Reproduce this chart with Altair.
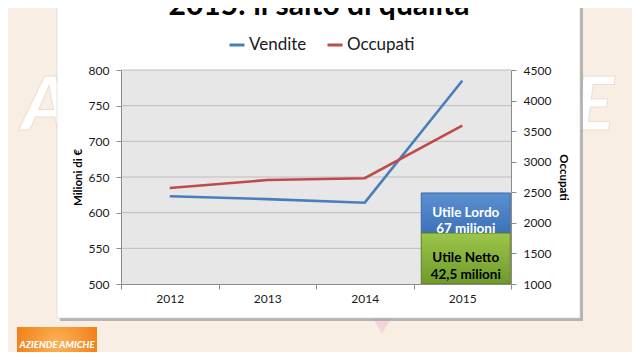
import altair as alt
import pandas as pd

# ---- data ----
anni = ["2012", "2013", "2014", "2015"]
vendite = [623, 619, 614, 785]          # Milioni di €
occupati = [2570, 2700, 2730, 3590]     # Occupati
griglia = [550, 600, 650, 700, 750, 800]
box_testi = ["Utile Lordo\n67 milioni", "Utile Netto\n42,5 milioni"]
box_alto = [627.6, 571.5]
box_basso = [571.5, 500]

W, H = 390, 214
FONT = "Lato"

serie = pd.DataFrame({
    "anno": anni * 2,
    "serie": ["Vendite"] * 4 + ["Occupati"] * 4,
    "valore": vendite + occupati,
})
boxes = pd.DataFrame({
    "anno": ["2015", "2015"],
    "testo": box_testi,
    "y": box_alto,
    "y2": box_basso,
    "ym": [(a + b) / 2 for a, b in zip(box_alto, box_basso)],
})
grid_df = pd.DataFrame({"v": griglia})
one = pd.DataFrame({"k": [0]})


def lscale():
    return alt.Scale(domain=[500, 800], nice=False, zero=False)


right_scale = alt.Scale(domain=[1000, 4500], nice=False, zero=False)
color_scale = alt.Scale(domain=["Vendite", "Occupati"], range=["#4A7EBB", "#BE4B48"])


def xenc(band=None):
    kw = {}
    if band is not None:
        kw["bandPosition"] = band
    return alt.X("anno:O",
                 scale=alt.Scale(type="band", paddingInner=0, paddingOuter=0),
                 axis=alt.Axis(title=None, tickBand="extent", labelAngle=0, labelFont=FONT,
                               labelFontSize=12, labelColor="#1a1a1a", domainColor="#8c8c8c",
                               tickColor="#8c8c8c", tickSize=5, labelPadding=4, zindex=1),
                 **kw)


# ---- decorations (slide) ----
watermark = alt.Chart(one).mark_text(
    text="AZIENDE AMICHE", font=FONT, fontSize=75, fontWeight=900, fontStyle="italic",
    fill="#ffffff", stroke="#eadfd3", strokeWidth=1, align="center", baseline="alphabetic"
).encode(x=alt.value(197), y=alt.value(60))

triangle = alt.Chart(one).mark_point(
    shape="triangle-down", size=420, filled=True, fill="#f3cdd4", opacity=0.8
).encode(x=alt.value(261), y=alt.value(255))

shadow = alt.Chart(one).mark_rect(fill="#9a9a9a", opacity=0.7).encode(
    x=alt.value(-61), x2=alt.value(462), y=alt.value(-80), y2=alt.value(251))
panel = alt.Chart(one).mark_rect(fill="#ffffff", stroke="#c8c8c8", strokeWidth=0.5).encode(
    x=alt.value(-64), x2=alt.value(459), y=alt.value(-80), y2=alt.value(248))

logo = alt.Chart(one).mark_rect(
    fill=alt.RadialGradient(gradient="radial", x1=0.5, y1=0.5, r1=0, x2=0.5, y2=0.5, r2=0.7,
                            stops=[alt.GradientStop(color="#fbb45a", offset=0),
                                   alt.GradientStop(color="#ef6f00", offset=1)])
).encode(x=alt.value(-104), x2=alt.value(-24), y=alt.value(257), y2=alt.value(292))
logo_txt = alt.Chart(one).mark_text(
    text="AZIENDE AMICHE", font=FONT, fontSize=9.5, fontWeight=900, fontStyle="italic",
    fill="#ffffff", align="center", baseline="middle"
).encode(x=alt.value(-64), y=alt.value(275))

title = alt.Chart(one).mark_text(
    text="2015: il salto di qualità", font=FONT, fontSize=30, fontWeight="bold",
    fill="#000000", align="center", baseline="alphabetic"
).encode(x=alt.value(198), y=alt.value(-55))

# ---- plot area ----
plot_bg = alt.Chart(one).mark_rect(fill="#e7e7e7").encode(
    x=alt.value(0), x2=alt.value(W), y=alt.value(0), y2=alt.value(H))

grid = alt.Chart(grid_df).mark_rule(color="#bdbdbd", strokeWidth=1).encode(
    y=alt.Y("v:Q", scale=lscale(), axis=None))

line_v = alt.Chart(serie).transform_filter(alt.datum.serie == "Vendite").mark_line(
    strokeWidth=2.6
).encode(
    x=xenc(0.5),
    y=alt.Y("valore:Q", scale=lscale(), axis=alt.Axis(
        orient="left", values=[500, 550, 600, 650, 700, 750, 800], grid=False,
        title="Milioni di €", titleFont=FONT, titleFontSize=11.5, titleFontWeight="bold",
        titleColor="#000000", titlePadding=5, labelFont=FONT, labelFontSize=12,
        labelColor="#1a1a1a", domainColor="#8c8c8c", tickColor="#8c8c8c", tickSize=5,
        labelPadding=7, format="d", zindex=1)),
    color=alt.Color("serie:N", scale=color_scale, legend=alt.Legend(
        orient="none", legendX=107, legendY=-34, direction="horizontal", title=None,
        symbolType="stroke", symbolStrokeWidth=3, symbolSize=225, labelFont=FONT,
        labelFontSize=17, labelColor="#1a1a1a", columnPadding=14, labelOffset=3, zindex=1)),
)

line_o = alt.Chart(serie).transform_filter(alt.datum.serie == "Occupati").mark_line(
    strokeWidth=2.6
).encode(
    x=xenc(0.5),
    y=alt.Y("valore:Q", scale=right_scale, axis=alt.Axis(
        orient="right", values=[1000, 1500, 2000, 2500, 3000, 3500, 4000, 4500], grid=False,
        title="Occupati", titleFont=FONT, titleFontSize=11.5, titleFontWeight="bold",
        titleColor="#000000", titlePadding=7, labelFont=FONT, labelFontSize=12,
        labelColor="#1a1a1a", domainColor="#8c8c8c", tickColor="#8c8c8c", tickSize=5,
        labelPadding=7, format="d", zindex=1)),
    color=alt.Color("serie:N", scale=color_scale),
)


def box(i, c0, c1, stroke):
    return alt.Chart(boxes.iloc[[i]]).mark_bar(
        width=89, xOffset=3.5, stroke=stroke, strokeWidth=1,
        fill=alt.LinearGradient(gradient="linear", x1=0, y1=0, x2=0, y2=1,
                                stops=[alt.GradientStop(color=c0, offset=0),
                                       alt.GradientStop(color=c1, offset=1)])
    ).encode(x=xenc(), y=alt.Y("y:Q", scale=lscale(), axis=None), y2="y2:Q")


def box_txt(i, col):
    return alt.Chart(boxes.iloc[[i]]).mark_text(
        lineBreak="\n", font=FONT, fontSize=13.5, fontWeight="bold", fill=col,
        align="center", baseline="middle", lineHeight=16.5, xOffset=3.5
    ).encode(x=xenc(0.5), y=alt.Y("ym:Q", scale=lscale(), axis=None), text="testo:N")


bar_lordo = box(0, "#5b90d2", "#3e72b8", "#3a6aa6")
bar_netto = box(1, "#9cc64a", "#6f9a2c", "#5d7d25")
txt_lordo = box_txt(0, "#ffffff")
txt_netto = box_txt(1, "#000000")

chart = alt.layer(
    watermark, triangle, shadow, panel, logo, logo_txt, title,
    plot_bg, grid, line_v, line_o, bar_lordo, bar_netto, txt_lordo, txt_netto
).resolve_scale(y="independent").properties(
    width=W, height=H,
    padding={"left": 113, "top": 62, "right": 121, "bottom": 68},
    autosize=alt.AutoSizeParams(type="none"),
    background="#f8eee4",
).configure_view(stroke=None, fill=None)

chart.save("out.html", embed_options={"renderer": "svg", "actions": False})
